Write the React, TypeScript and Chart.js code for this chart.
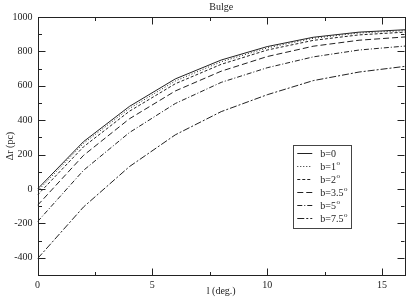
import React, { useEffect, useRef } from "react";
import { Chart, registerables } from "chart.js";

Chart.register(...registerables);

const longitudes = [0, 2, 4, 6, 8, 10, 12, 14, 16];
const b0 = [0, 275, 480, 640, 750, 828, 882, 912, 926];
const b1 = [-12, 265, 468, 628, 740, 820, 876, 907, 921];
const b2 = [-35, 245, 452, 612, 725, 808, 864, 896, 912];
const b35 = [-95, 195, 408, 570, 685, 770, 830, 865, 884];
const b5 = [-190, 108, 328, 497, 620, 705, 768, 808, 831];
const b75 = [-405, -105, 130, 315, 450, 548, 630, 680, 713];

const seriesNames = ["b=0", "b=1", "b=2", "b=3.5", "b=5", "b=7.5"];
const seriesSup = ["", "o", "o", "o", "o", "o"];
const seriesData = [b0, b1, b2, b35, b5, b75];
const dashes: number[][] = [[], [1, 2], [3, 2], [6, 3], [5, 2, 1, 2], [7, 2, 2, 2]];

const xTicks = [0, 5, 10, 15];
const xMinor = [2.5, 7.5, 12.5];
const yTicks = [-400, -200, 0, 200, 400, 600, 800, 1000];
const yMinor = [-300, -100, 100, 300, 500, 700, 900];

const FONT = "'Liberation Serif', 'DejaVu Serif', serif";
const INK = "#222";

const decorPlugin = {
  id: "decor",
  afterDraw(chart: any) {
    const ctx = chart.ctx;
    const a = chart.chartArea;
    const xs = chart.scales.x;
    const ys = chart.scales.y;
    ctx.save();
    ctx.strokeStyle = INK;
    ctx.lineWidth = 1;
    ctx.setLineDash([]);
    // frame
    ctx.strokeRect(Math.round(a.left) + 0.5, Math.round(a.top) + 0.5, Math.round(a.right - a.left) - 1, Math.round(a.bottom - a.top));
    // ticks inward
    const tick = (x1: number, y1: number, x2: number, y2: number) => {
      ctx.beginPath();
      ctx.moveTo(x1, y1);
      ctx.lineTo(x2, y2);
      ctx.stroke();
    };
    const bottom = Math.round(a.bottom) + 0.5;
    const top = Math.round(a.top) + 0.5;
    const left = Math.round(a.left) + 0.5;
    const right = Math.round(a.right) - 0.5;
    xTicks.forEach((v) => {
      const px = Math.round(xs.getPixelForValue(v)) + 0.5;
      if (v === 0) return;
      tick(px, bottom, px, bottom - 7);
      tick(px, top, px, top + 7);
    });
    xMinor.forEach((v) => {
      const px = Math.round(xs.getPixelForValue(v)) + 0.5;
      tick(px, bottom, px, bottom - 3.5);
      tick(px, top, px, top + 3.5);
    });
    yTicks.forEach((v) => {
      const py = Math.round(ys.getPixelForValue(v)) + 0.5;
      tick(left, py, left + 7, py);
      tick(right, py, right - 7, py);
    });
    yMinor.forEach((v) => {
      const py = Math.round(ys.getPixelForValue(v)) + 0.5;
      tick(left, py, left + 3.5, py);
      tick(right, py, right - 3.5, py);
    });

    // titles
    ctx.fillStyle = INK;
    ctx.font = `10px ${FONT}`;
    ctx.textAlign = "center";
    ctx.textBaseline = "middle";
    const cx = (a.left + a.right) / 2;
    ctx.fillText("Bulge", cx, 7);
    ctx.fillText("l (deg.)", cx, 291);
    ctx.save();
    ctx.translate(10, (a.top + a.bottom) / 2);
    ctx.rotate(-Math.PI / 2);
    ctx.fillText("\u0394r (pc)", 0, 0);
    ctx.restore();

    // legend
    const w = a.right - a.left;
    const h = a.bottom - a.top;
    const lx = a.left + w * 0.696;
    const ly = a.top + h * 0.496;
    const lw = 58;
    const lh = 83;
    ctx.fillStyle = "#fff";
    ctx.fillRect(lx, ly, lw, lh);
    ctx.strokeStyle = "#444";
    ctx.strokeRect(Math.round(lx) + 0.5, Math.round(ly) + 0.5, lw, lh);
    ctx.textAlign = "left";
    ctx.textBaseline = "middle";
    seriesNames.forEach((name, i) => {
      const yy = Math.round(ly + 8.5 + i * 12.9) + 0.5;
      ctx.strokeStyle = INK;
      ctx.setLineDash(dashes[i]);
      ctx.beginPath();
      ctx.moveTo(lx + 4, yy);
      ctx.lineTo(lx + 19, yy);
      ctx.stroke();
      ctx.setLineDash([]);
      ctx.fillStyle = INK;
      ctx.font = `10px ${FONT}`;
      ctx.fillText(name, lx + 27, yy + 0.5);
      if (seriesSup[i]) {
        const tw = ctx.measureText(name).width;
        ctx.font = `7px ${FONT}`;
        ctx.fillText(seriesSup[i], lx + 27 + tw + 0.5, yy - 3.5);
      }
    });
    ctx.restore();
  },
};

export default function App() {
  const ref = useRef<HTMLCanvasElement | null>(null);
  useEffect(() => {
    if (!ref.current) return;
    const datasets = seriesData.map((d, i) => ({
      label: seriesNames[i],
      data: d.map((v, j) => ({ x: longitudes[j], y: v })),
      borderColor: INK,
      borderWidth: 1,
      borderDash: dashes[i],
      pointRadius: 0,
      fill: false,
      tension: 0,
    }));
    const chart = new Chart(ref.current, {
      type: "line",
      data: { datasets },
      plugins: [decorPlugin],
      options: {
        animation: false,
        responsive: false,
        maintainAspectRatio: false,
        layout: { padding: { top: 17, right: 1, left: 0, bottom: 0 } },
        plugins: { legend: { display: false }, title: { display: false }, tooltip: { enabled: false } },
        scales: {
          x: {
            type: "linear",
            min: 0,
            max: 16,
            grid: { display: false, drawTicks: false },
            border: { display: false },
            afterBuildTicks: (s: any) => {
              s.ticks = xTicks.map((v) => ({ value: v }));
            },
            afterFit: (s: any) => {
              s.height = 25;
            },
            ticks: {
              padding: 4,
              color: INK,
              maxRotation: 0,
              autoSkip: false,
              font: { family: FONT, size: 10 },
              callback: (v: any) => String(v),
            },
          },
          y: {
            type: "linear",
            min: -500,
            max: 1000,
            grid: { display: false, drawTicks: false },
            border: { display: false },
            afterBuildTicks: (s: any) => {
              s.ticks = yTicks.map((v) => ({ value: v }));
            },
            afterFit: (s: any) => {
              s.width = 37.5;
            },
            ticks: {
              padding: 5,
              color: INK,
              autoSkip: false,
              font: { family: FONT, size: 10 },
              callback: (v: any) => String(v),
            },
          },
        },
      },
    });
    return () => chart.destroy();
  }, []);
  return (
    <div style={{ position: "absolute", left: 0, top: 0, width: 406, height: 300, background: "#fff" }}>
      <canvas ref={ref} width={406} height={300} />
    </div>
  );
}
